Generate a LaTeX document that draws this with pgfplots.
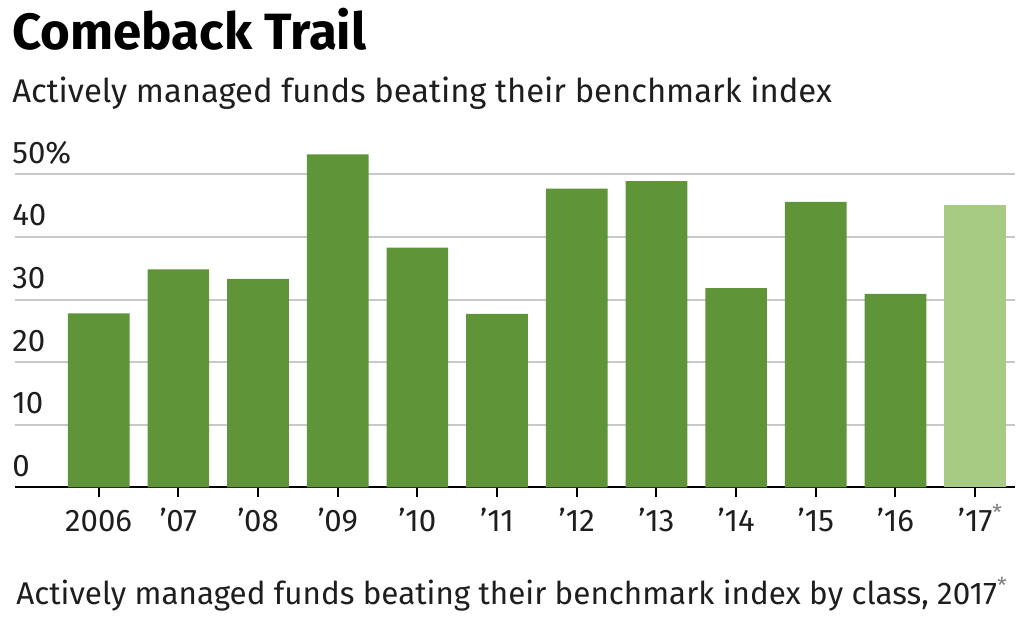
\documentclass[border=0pt]{standalone}
\usepackage{pgfplots}
\pgfplotsset{compat=1.18}
\usepackage{fontspec}
\setmainfont{Fira Sans}
\definecolor{dg}{HTML}{5F9439}
\definecolor{lg}{HTML}{A8CB84}
\definecolor{gr}{HTML}{C8C8C8}
\definecolor{tx}{HTML}{1E1E1E}
\begin{document}
\begin{tikzpicture}
\path[use as bounding box] (0pt,0pt) rectangle (512pt,311pt);
\node[anchor=base west, inner sep=0pt, text=black, font=\fontsize{25.5}{30}\selectfont\bfseries] at (6pt,286pt) {Comeback Trail};
\node[anchor=base west, inner sep=0pt, text=tx, font=\fontsize{16.4}{20}\selectfont] at (6pt,259.5pt) {Actively managed funds beating their benchmark index};
\begin{axis}[
  at={(7.5pt,67.35pt)}, anchor=south west,
  scale only axis, width=500pt, height=172.15pt,
  xmin=-1.05, xmax=11.5, ymin=0, ymax=55,
  ybar, bar width=0.774, bar shift=0pt,
  axis x line*=bottom, axis y line*=left,
  x axis line style={line width=1pt, black},
  y axis line style={draw=none},
  ytick={0,10,20,30,40,50},
  yticklabels={0,10,20,30,40,50\%},
  xtick={0,1,2,3,4,5,6,7,8,9,10,11},
  xticklabels={2006,’07,’08,’09,’10,’11,’12,’13,’14,’15,’16,’17\rlap{\textsuperscript{\color{gray}*}}},
  tick align=outside, major tick length=5pt,
  xtick style={line width=1pt, black},
  ytick style={draw=none},
  ymajorgrids, grid style={gr, line width=1pt},
  /pgf/number format/assume math mode=true,
  ticklabel style={font=\fontsize{15.6}{18}\selectfont, text=tx, inner sep=0pt},
  yticklabel style={anchor=base west, xshift=3.5pt, yshift=5.5pt},
  xticklabel style={anchor=base, yshift=-17pt},
]
\addplot[fill=dg, draw=none] coordinates {(0,27.8) (1,34.8) (2,33.3) (3,53.2) (4,38.3) (5,27.7) (6,47.7) (7,48.9) (8,31.8) (9,45.6) (10,30.9)};
\addplot[fill=lg, draw=none] coordinates {(11,45.1)};
\end{axis}
\node[anchor=base west, inner sep=0pt, text=tx, font=\fontsize{15.7}{20}\selectfont] at (8pt,9pt) {Actively managed funds beating their benchmark index by class, 2017\textsuperscript{\color{gray}*}};
\end{tikzpicture}
\end{document}
